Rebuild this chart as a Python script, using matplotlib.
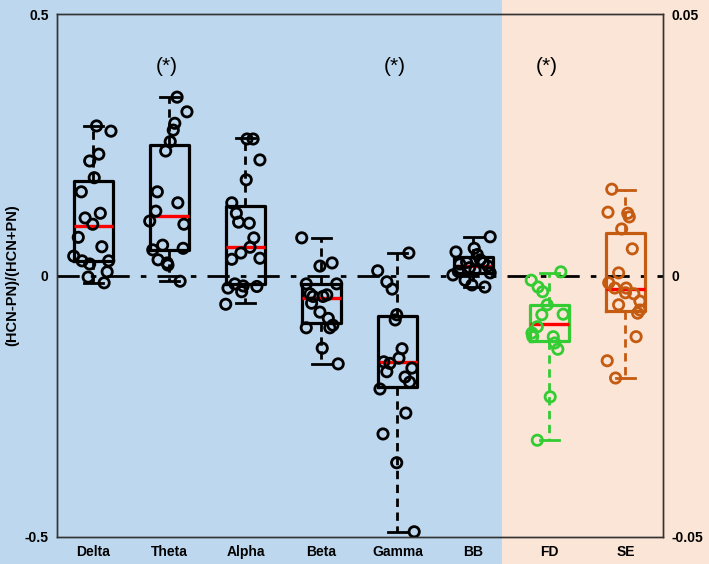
import numpy as np
import matplotlib.pyplot as plt
from matplotlib.patches import Rectangle

plt.rcParams['font.family'] = ['Liberation Sans', 'DejaVu Sans']

# categories (left axis: bands, right axis: FD / SE)
bands = ['Delta', 'Theta', 'Alpha', 'Beta', 'Gamma', 'BB']
extra = ['FD', 'SE']
signif = ['Theta', 'Gamma', 'FD']

# box stats: whislo, q1, med, q3, whishi
delta_box = [-0.014, 0.028, 0.095, 0.181, 0.286]
theta_box = [-0.011, 0.049, 0.114, 0.249, 0.341]
alpha_box = [-0.053, -0.016, 0.054, 0.133, 0.263]
beta_box = [-0.169, -0.091, -0.043, -0.016, 0.072]
gamma_box = [-0.490, -0.213, -0.165, -0.077, 0.043]
bb_box = [-0.022, 0.005, 0.018, 0.035, 0.074]
fd_box = [-0.0315, -0.0125, -0.0093, -0.0056, 0.0005]
se_box = [-0.0196, -0.0068, -0.0026, 0.0081, 0.0163]

# individual points (values) and their horizontal jitter (category units)
delta_pts = [0.286, 0.276, 0.232, 0.219, 0.187, 0.160, 0.119, 0.110, 0.098, 0.073,
             0.055, 0.037, 0.028, 0.022, 0.028, 0.007, -0.003, -0.014]
delta_jit = [0.04, 0.23, 0.07, -0.05, 0.01, -0.16, 0.09, -0.11, -0.01, -0.20,
             0.11, -0.26, -0.15, -0.05, 0.20, 0.18, -0.07, 0.14]
theta_pts = [0.341, 0.313, 0.291, 0.278, 0.256, 0.238, 0.160, 0.139, 0.123, 0.104,
             0.098, 0.058, 0.049, 0.052, 0.030, 0.024, 0.020, -0.011]
theta_jit = [0.10, 0.23, 0.07, 0.05, 0.01, -0.05, -0.16, 0.11, -0.18, -0.26,
             0.19, -0.09, -0.22, 0.18, -0.15, -0.03, -0.02, 0.14]
alpha_pts = [0.261, 0.261, 0.221, 0.183, 0.139, 0.119, 0.102, 0.100, 0.072, 0.054,
             0.043, 0.031, 0.033, -0.024, -0.016, -0.020, -0.031, -0.021, -0.055]
alpha_jit = [0.10, 0.02, 0.19, 0.01, -0.18, -0.12, -0.09, 0.05, 0.11, 0.06,
             -0.06, -0.18, 0.19, -0.23, -0.14, -0.03, -0.05, 0.15, -0.26]
beta_pts = [0.072, 0.018, 0.024, -0.016, -0.016, -0.035, -0.040, -0.040, -0.037,
            -0.053, -0.070, -0.082, -0.095, -0.100, -0.100, -0.139, -0.169]
beta_jit = [-0.26, -0.02, 0.14, -0.20, 0.20, -0.15, -0.11, 0.02, 0.07,
            -0.13, -0.02, 0.09, 0.15, -0.20, 0.11, 0.01, 0.22]
gamma_pts = [0.043, 0.009, -0.012, -0.026, -0.075, -0.085, -0.140, -0.158, -0.165, -0.168,
             -0.184, -0.177, -0.194, -0.204, -0.217, -0.263, -0.303, -0.358, -0.490]
gamma_jit = [0.15, -0.26, -0.14, -0.07, -0.01, -0.03, 0.06, 0.02, -0.18, -0.10,
             -0.14, 0.19, 0.10, 0.16, -0.23, 0.11, -0.19, -0.01, 0.22]
bb_pts = [0.074, 0.052, 0.045, 0.040, 0.030, 0.025, 0.022, 0.025, 0.018,
          0.001, -0.009, -0.018, -0.022, 0.010, 0.015, 0.008, 0.005]
bb_jit = [0.22, 0.01, -0.23, 0.05, 0.09, -0.09, -0.18, 0.13, 0.19,
          -0.27, -0.11, -0.02, 0.15, 0.02, -0.05, -0.20, 0.22]
fd_pts = [0.0007, -0.0009, -0.0022, -0.0031, -0.0056, -0.0075, -0.0074, -0.0098,
          -0.0110, -0.0117, -0.0117, -0.0129, -0.0141, -0.0232, -0.0315]
fd_jit = [0.15, -0.24, -0.15, -0.09, -0.03, -0.10, 0.18, -0.16,
          -0.23, -0.22, 0.05, 0.07, 0.11, 0.01, -0.16]
se_pts = [0.0165, 0.0121, 0.0119, 0.0112, 0.0089, 0.0051, 0.0005, -0.0014, -0.0024, -0.0024,
          -0.0033, -0.0035, -0.0049, -0.0056, -0.0066, -0.0072, -0.0117, -0.0163, -0.0196]
se_jit = [-0.18, -0.23, 0.03, 0.05, -0.05, 0.09, -0.09, -0.22, -0.14, 0.01,
          0.0, 0.11, 0.19, -0.09, 0.19, 0.16, 0.14, -0.24, -0.13]

blue_bg = '#bdd7ee'
peach_bg = '#fbe5d6'
fd_col = '#33cc33'
se_col = '#c55a11'

fig = plt.figure(figsize=(7.09, 5.64), dpi=100)
# split background
split = 502 / 709
fig.patches.append(Rectangle((0, 0), split, 1, transform=fig.transFigure,
                             facecolor=blue_bg, edgecolor='none', zorder=-10))
fig.patches.append(Rectangle((split, 0), 1 - split, 1, transform=fig.transFigure,
                             facecolor=peach_bg, edgecolor='none', zorder=-10))

ax = fig.add_axes([57 / 709, 27 / 564, 606 / 709, 523 / 564])
ax.set_facecolor('none')
ax2 = ax.twinx()
ax2.set_facecolor('none')


def draw(axis, pos, box, pts, jit, col):
    st = dict(whislo=box[0], q1=box[1], med=box[2], q3=box[3], whishi=box[4], fliers=[])
    axis.bxp([st], positions=[pos], widths=0.51, capwidths=0.25, showfliers=False,
             boxprops=dict(color=col, linewidth=2.3),
             whiskerprops=dict(color=col, linewidth=2.0, linestyle=(0, (3, 2))),
             capprops=dict(color=col, linewidth=2.0),
             medianprops=dict(color='#ff0000', linewidth=2.4), zorder=3)
    axis.scatter(pos + np.array(jit), pts, s=55, facecolors='none',
                 edgecolors=col, linewidths=2.0, zorder=4)


left_data = [(delta_box, delta_pts, delta_jit), (theta_box, theta_pts, theta_jit),
             (alpha_box, alpha_pts, alpha_jit), (beta_box, beta_pts, beta_jit),
             (gamma_box, gamma_pts, gamma_jit), (bb_box, bb_pts, bb_jit)]
for i, (b, p, j) in enumerate(left_data):
    draw(ax, i + 1, b, p, j, 'black')
draw(ax2, 7, fd_box, fd_pts, fd_jit, fd_col)
draw(ax2, 8, se_box, se_pts, se_jit, se_col)

ax.axhline(0, color='black', linewidth=2, linestyle=(0, (8, 4, 2, 4)), zorder=2)

names = bands + extra
for name in signif:
    ax.text(names.index(name) + 1 - 0.04, 0.40, '(*)', ha='center', va='center',
            fontsize=15)

ax.set_xlim(0.52, 8.494)
ax.set_ylim(-0.5, 0.5)
ax2.set_ylim(-0.05, 0.05)
ax.set_xticks(range(1, 9))
ax.set_xticklabels(names, fontweight='bold', fontsize=10)
ax.set_yticks([-0.5, 0, 0.5])
ax.set_yticklabels(['-0.5', '0', '0.5'], fontweight='bold', fontsize=10)
ax2.set_yticks([-0.05, 0, 0.05])
ax2.set_yticklabels(['-0.05', '0', '0.05'], fontweight='bold', fontsize=10)
ax.tick_params(axis='both', length=0, pad=6)
ax2.tick_params(axis='y', length=0, pad=6)
ax.set_ylabel('(HCN-PN)/(HCN+PN)', fontweight='bold', fontsize=10.5, labelpad=4)
for a in (ax, ax2):
    for s in a.spines.values():
        s.set_color('#333333')
        s.set_linewidth(1.0)

fig.savefig('out.png', dpi=100)
